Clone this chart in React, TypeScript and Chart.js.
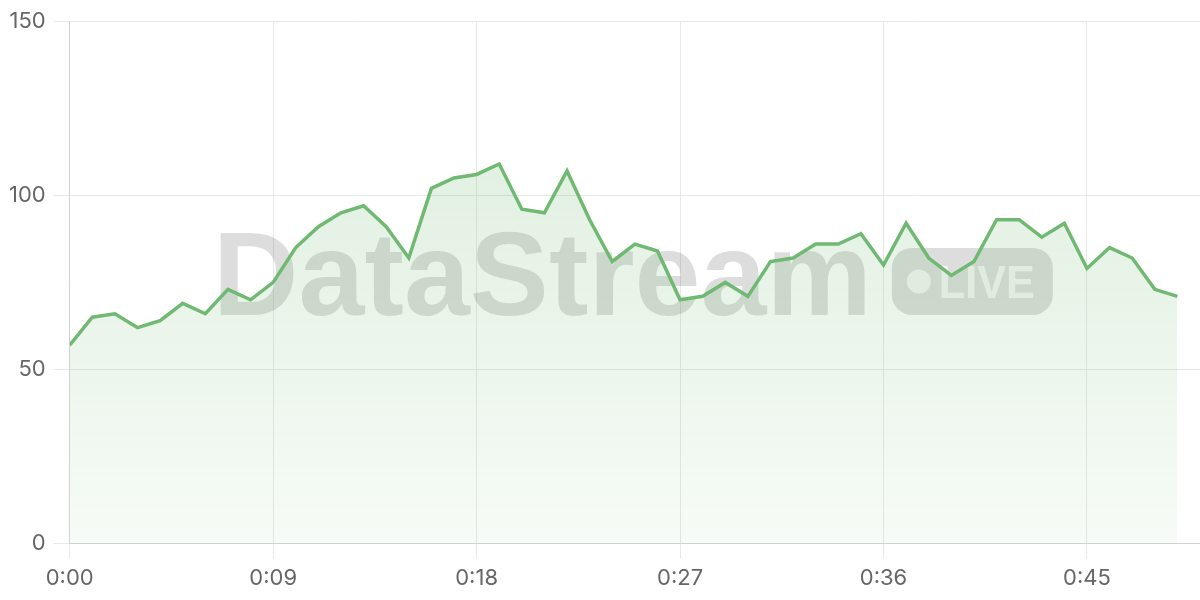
import React, { useEffect, useRef } from "react";
import { Chart, registerables } from "chart.js";

Chart.register(...registerables);

// seconds since start
const seconds = [
  0, 1, 2, 3, 4, 5, 6, 7, 8, 9,
  10, 11, 12, 13, 14, 15, 16, 17, 18, 19,
  20, 21, 22, 23, 24, 25, 26, 27, 28, 29,
  30, 31, 32, 33, 34, 35, 36, 37, 38, 39,
  40, 41, 42, 43, 44, 45, 46, 47, 48, 49,
];

const values = [
  57, 65, 66, 62, 64, 69, 66, 73, 70, 75,
  85, 91, 95, 97, 91, 82, 102, 105, 106, 109,
  96, 95, 107, 93, 81, 86, 84, 70, 71, 75,
  71, 81, 82, 86, 86, 89, 80, 92, 82, 77,
  81, 93, 93, 88, 92, 79, 85, 82, 73, 71,
];

const xTickValues = [0, 9, 18, 27, 36, 45];
const yTickValues = [0, 50, 100, 150];

const watermarkText = "DataStream";
const badgeText = "LIVE";

const LINE_COLOR = "rgb(112, 185, 114)";
const FONT = "Inter, 'Noto Sans', sans-serif";
const WM_FONT = "'Liberation Sans', Arial, sans-serif";

function fmtTime(v: number): string {
  const m = Math.floor(v / 60);
  const s = v % 60;
  return `${m}:${String(s).padStart(2, "0")}`;
}

const watermarkPlugin = {
  id: "watermark",
  beforeDatasetsDraw(chart: any) {
    const { ctx, chartArea } = chart;
    if (!chartArea) return;
    const cx = (chartArea.left + chartArea.right) / 2;
    const cy = (chartArea.top + chartArea.bottom) / 2;
    const textW = 659;
    const gap = 20;
    const badgeW = 161;
    const badgeH = 67;
    const total = textW + gap + badgeW;
    const startX = cx - total / 2 - 2;
    const badgeTop = cy - badgeH / 2 - 1;
    const baseline = badgeTop + badgeH;
    ctx.save();
    ctx.fillStyle = "rgba(0,0,0,0.135)";
    ctx.font = `bold 119px ${WM_FONT}`;
    ctx.textAlign = "left";
    ctx.textBaseline = "alphabetic";
    ctx.fillText(watermarkText, startX, baseline, textW);

    const bx = startX + textW + gap;
    const r = 20;
    ctx.beginPath();
    ctx.moveTo(bx + r, badgeTop);
    ctx.lineTo(bx + badgeW - r, badgeTop);
    ctx.arcTo(bx + badgeW, badgeTop, bx + badgeW, badgeTop + r, r);
    ctx.lineTo(bx + badgeW, badgeTop + badgeH - r);
    ctx.arcTo(bx + badgeW, badgeTop + badgeH, bx + badgeW - r, badgeTop + badgeH, r);
    ctx.lineTo(bx + r, badgeTop + badgeH);
    ctx.arcTo(bx, badgeTop + badgeH, bx, badgeTop + badgeH - r, r);
    ctx.lineTo(bx, badgeTop + r);
    ctx.arcTo(bx, badgeTop, bx + r, badgeTop, r);
    ctx.closePath();
    ctx.fill();

    ctx.fillStyle = "rgba(255,255,255,0.72)";
    ctx.beginPath();
    ctx.arc(bx + 27, badgeTop + badgeH / 2, 12, 0, Math.PI * 2);
    ctx.fill();
    ctx.font = `bold 46px ${WM_FONT}`;
    ctx.fillText(badgeText, bx + 47, badgeTop + 50, 96);
    ctx.restore();
  },
};

export default function App() {
  const canvasRef = useRef<HTMLCanvasElement | null>(null);

  useEffect(() => {
    if (!canvasRef.current) return;
    const chart = new Chart(canvasRef.current, {
      type: "line",
      data: {
        datasets: [
          {
            data: seconds.map((s, i) => ({ x: s, y: values[i] })),
            borderColor: LINE_COLOR,
            borderWidth: 3.5,
            pointRadius: 0,
            tension: 0,
            fill: "origin",
            backgroundColor: (context: any) => {
              const { chart } = context;
              const area = chart.chartArea;
              if (!area) return "rgba(112,185,114,0.15)";
              const g = chart.ctx.createLinearGradient(0, area.top, 0, area.bottom);
              g.addColorStop(0, "rgba(112,185,114,0.26)");
              g.addColorStop(1, "rgba(112,185,114,0.06)");
              return g;
            },
          },
        ],
      },
      options: {
        animation: false,
        responsive: true,
        maintainAspectRatio: false,
        layout: { padding: { top: 5, left: 1, right: 0, bottom: 1 } },
        plugins: {
          legend: { display: false },
          tooltip: { enabled: false },
        },
        scales: {
          x: {
            type: "linear",
            min: 0,
            max: 50,
            afterBuildTicks: (scale: any) => {
              scale.ticks = xTickValues.map((v) => ({ value: v }));
            },
            grid: { color: "#e8e8e8", tickLength: 15, lineWidth: 1 },
            border: { color: "#d2d2d2" },
            ticks: {
              color: "#666",
              padding: 7,
              maxRotation: 0,
              font: { family: FONT, size: 22 },
              callback: (v: any) => fmtTime(Number(v)),
            },
          },
          y: {
            min: 0,
            max: 150,
            afterBuildTicks: (scale: any) => {
              scale.ticks = yTickValues.map((v) => ({ value: v }));
            },
            grid: { color: "#e8e8e8", tickLength: 16, lineWidth: 1 },
            border: { color: "#d2d2d2" },
            ticks: {
              color: "#666",
              padding: 8,
              font: { family: FONT, size: 22 },
            },
          },
        },
      },
      plugins: [watermarkPlugin],
    });
    return () => chart.destroy();
  }, []);

  return (
    <div style={{ position: "fixed", left: 0, top: 0, width: 1200, height: 600, background: "#fff" }}>
      <canvas ref={canvasRef} />
    </div>
  );
}
